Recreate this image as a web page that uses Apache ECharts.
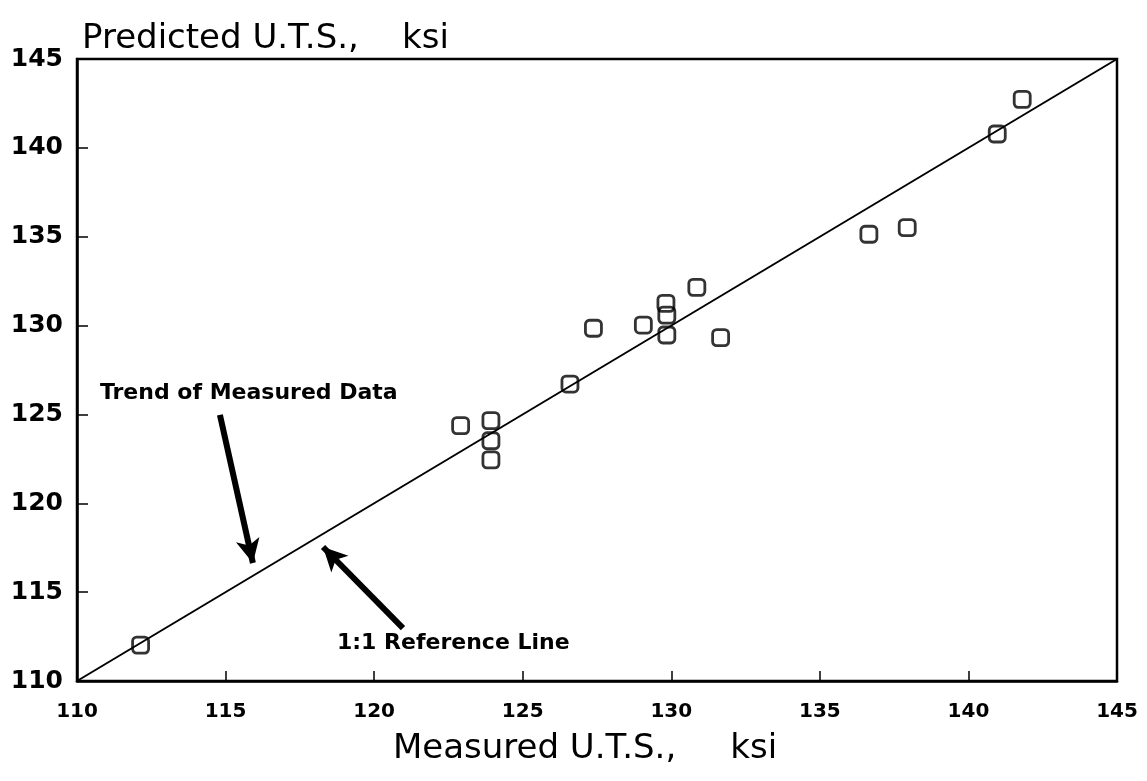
<!DOCTYPE html>
<html>
<head>
<meta charset="utf-8">
<script src="https://cdn.jsdelivr.net/npm/echarts@6/dist/echarts.min.js"></script>
<style>
html,body{margin:0;padding:0;background:#fff;}
#chart{width:1147px;height:781px;}
</style>
</head>
<body>
<div id="chart"></div>
<script>
// Data
const measured  = [130.86, 129.82, 129.85, 129.85, 129.06, 127.38, 131.66, 126.59, 122.91, 123.93, 123.93, 123.93, 141.81, 140.97, 136.65, 137.94, 112.14];
const predicted = [132.15, 131.25, 130.59, 129.47, 130.03, 129.85, 129.32, 126.71, 124.37, 124.65, 123.52, 122.44, 142.73, 140.78, 135.14, 135.51, 112.02];
const refLine = [110, 145];
const axisTicks = [110, 115, 120, 125, 130, 135, 140, 145];
const xTitle = 'Measured U.T.S.,     ksi';
const yTitle = 'Predicted U.T.S.,    ksi';
// annotations: [label, x, y] and arrows [[x0,y0],[x1,y1]]
const noteTrend = ['Trend of Measured Data', 110.77, 126.21];
const noteRef = ['1:1 Reference Line', 118.75, 112.14];
const arrowTrend = [[114.81, 124.97], [115.92, 116.64]];
const arrowRef = [[120.97, 112.98], [118.28, 117.54]];

const FONT = 'DejaVu Sans, Verdana, sans-serif';
const chart = echarts.init(document.getElementById('chart'), null, {renderer: 'canvas'});

const pts = measured.map((m, i) => [m, predicted[i]]);

const option = {
  animation: false,
  backgroundColor: '#fff',
  grid: {left: 77, right: 30, top: 59, bottom: 100, show: true, borderColor: '#000', borderWidth: 2.5, backgroundColor: 'transparent'},
  xAxis: {
    type: 'value', min: axisTicks[0], max: axisTicks[axisTicks.length - 1], interval: 5,
    name: xTitle, nameLocation: 'middle', nameGap: 51,
    nameTextStyle: {color: '#000', fontSize: 34, fontFamily: FONT, padding: [0, 24, 0, 0]},
    axisLine: {show: true, lineStyle: {color: '#000', width: 2.5}},
    axisTick: {show: true, inside: true, length: 10, lineStyle: {color: '#000', width: 1.5}},
    axisLabel: {color: '#000', fontSize: 20, fontWeight: 'bold', fontFamily: FONT, margin: 21},
    splitLine: {show: false}
  },
  yAxis: {
    type: 'value', min: axisTicks[0], max: axisTicks[axisTicks.length - 1], interval: 5,
    name: yTitle, nameLocation: 'end', nameGap: 3,
    nameTextStyle: {color: '#000', fontSize: 34, fontFamily: FONT, align: 'left', padding: [0, 0, 0, 5]},
    axisLine: {show: true, lineStyle: {color: '#000', width: 2.5}},
    axisTick: {show: true, inside: true, length: 11, lineStyle: {color: '#000', width: 1.5}},
    axisLabel: {color: '#000', fontSize: 25, fontWeight: 'bold', fontFamily: FONT, margin: 14},
    splitLine: {show: false}
  },
  series: [
    {
      type: 'line',
      data: [[refLine[0], refLine[0]], [refLine[1], refLine[1]]],
      showSymbol: false,
      lineStyle: {color: '#000', width: 2},
      silent: true,
      markLine: {
        silent: true,
        symbol: ['none', 'arrow'],
        symbolSize: [18, 24],
        lineStyle: {color: '#000', width: 6, type: 'solid'},
        label: {show: false},
        data: [
          [{coord: arrowTrend[0]}, {coord: arrowTrend[1]}],
          [{coord: arrowRef[0]}, {coord: arrowRef[1]}]
        ]
      },
      markPoint: {
        symbol: 'circle', symbolSize: 0, silent: true,
        label: {show: true, position: 'right', distance: 0, color: '#000', fontSize: 22, fontWeight: 'bold', fontFamily: FONT,
          formatter: p => p.name},
        data: [
          {name: noteTrend[0], coord: [noteTrend[1], noteTrend[2]]},
          {name: noteRef[0], coord: [noteRef[1], noteRef[2]]}
        ]
      }
    },
    {
      type: 'scatter',
      data: pts,
      symbol: 'roundRect',
      symbolSize: 16,
      itemStyle: {color: 'rgba(0,0,0,0)', borderColor: '#000', borderWidth: 2.8},
      z: 5
    }
  ]
};
chart.setOption(option);
</script>
</body>
</html>
